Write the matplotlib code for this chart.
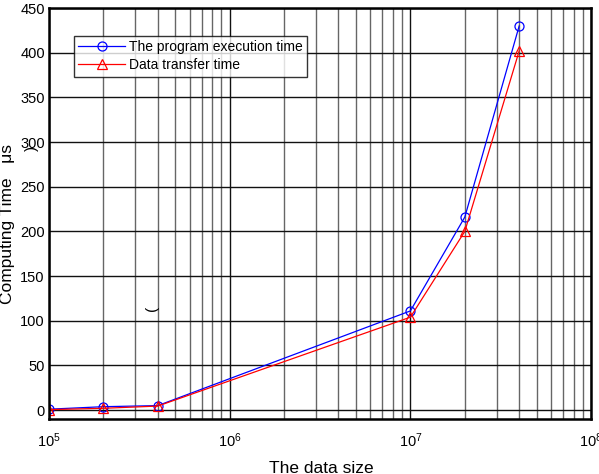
import matplotlib
matplotlib.use("Agg")
import matplotlib.pyplot as plt

plt.rcParams['font.family'] = ['Liberation Sans', 'DejaVu Sans']
plt.rcParams['mathtext.fontset'] = 'custom'
plt.rcParams['mathtext.rm'] = 'Liberation Sans'
plt.rcParams['mathtext.it'] = 'Liberation Sans'

data_size = [1e5, 2e5, 4e5, 1e7, 2e7, 4e7]
exec_time = [1, 3.8, 5, 111, 216, 430]
transfer_time = [0.5, 2, 4.5, 104, 200, 402]
y_ticks = [0, 50, 100, 150, 200, 250, 300, 350, 400, 450]

fig = plt.figure(figsize=(5.99, 4.74), dpi=100)
ax = fig.add_axes([0.0818, 0.116, 0.905, 0.867])

ax.plot(data_size, exec_time, color='#0000ff', lw=0.9, marker='o', ms=6.5,
        mfc='none', mec='#0000ff', mew=0.9, label='The program execution time')
ax.plot(data_size, transfer_time, color='#ff0000', lw=0.9, marker='^', ms=6.5,
        mfc='none', mec='#ff0000', mew=0.9, label='Data transfer time')

ax.set_xscale('log')
ax.set_xlim(1e5, 1e8)
ax.set_ylim(-10, 450)
ax.set_yticks(y_ticks)
ax.grid(True, which='major', axis='both', color='#111111', lw=1.0)
ax.grid(True, which='minor', axis='x', color='#666666', lw=1.0)
ax.set_axisbelow(True)
for s in ax.spines.values():
    s.set_linewidth(1.8)
ax.tick_params(axis='both', which='both', length=0, labelsize=10.5)
ax.tick_params(axis='x', which='major', pad=9)
ax.tick_params(axis='y', pad=3)

ax.set_ylabel('Computing Time   μs', fontsize=12.5)
ax.yaxis.set_label_coords(-0.063, 0.475)

fig.text(0.537, 1 - 461 / 474, 'The data size', fontsize=12.5,
         ha='center', va='top')

leg = ax.legend(loc='upper left', bbox_to_anchor=(0.046, 0.932), fontsize=10,
                frameon=True, fancybox=False, edgecolor='black',
                borderpad=0.3, labelspacing=0.3, handlelength=3.4,
                handletextpad=0.3, borderaxespad=0)
leg.get_frame().set_linewidth(1.0)

ax.text(0.19, 0.27, '(', transform=ax.transAxes, fontsize=11,
        ha='center', va='center', rotation=90)
fig.text(32 / 599, 1 - 148 / 474, ')', fontsize=11,
         ha='center', va='center', rotation=90)

fig.savefig('out.png', dpi=100)
